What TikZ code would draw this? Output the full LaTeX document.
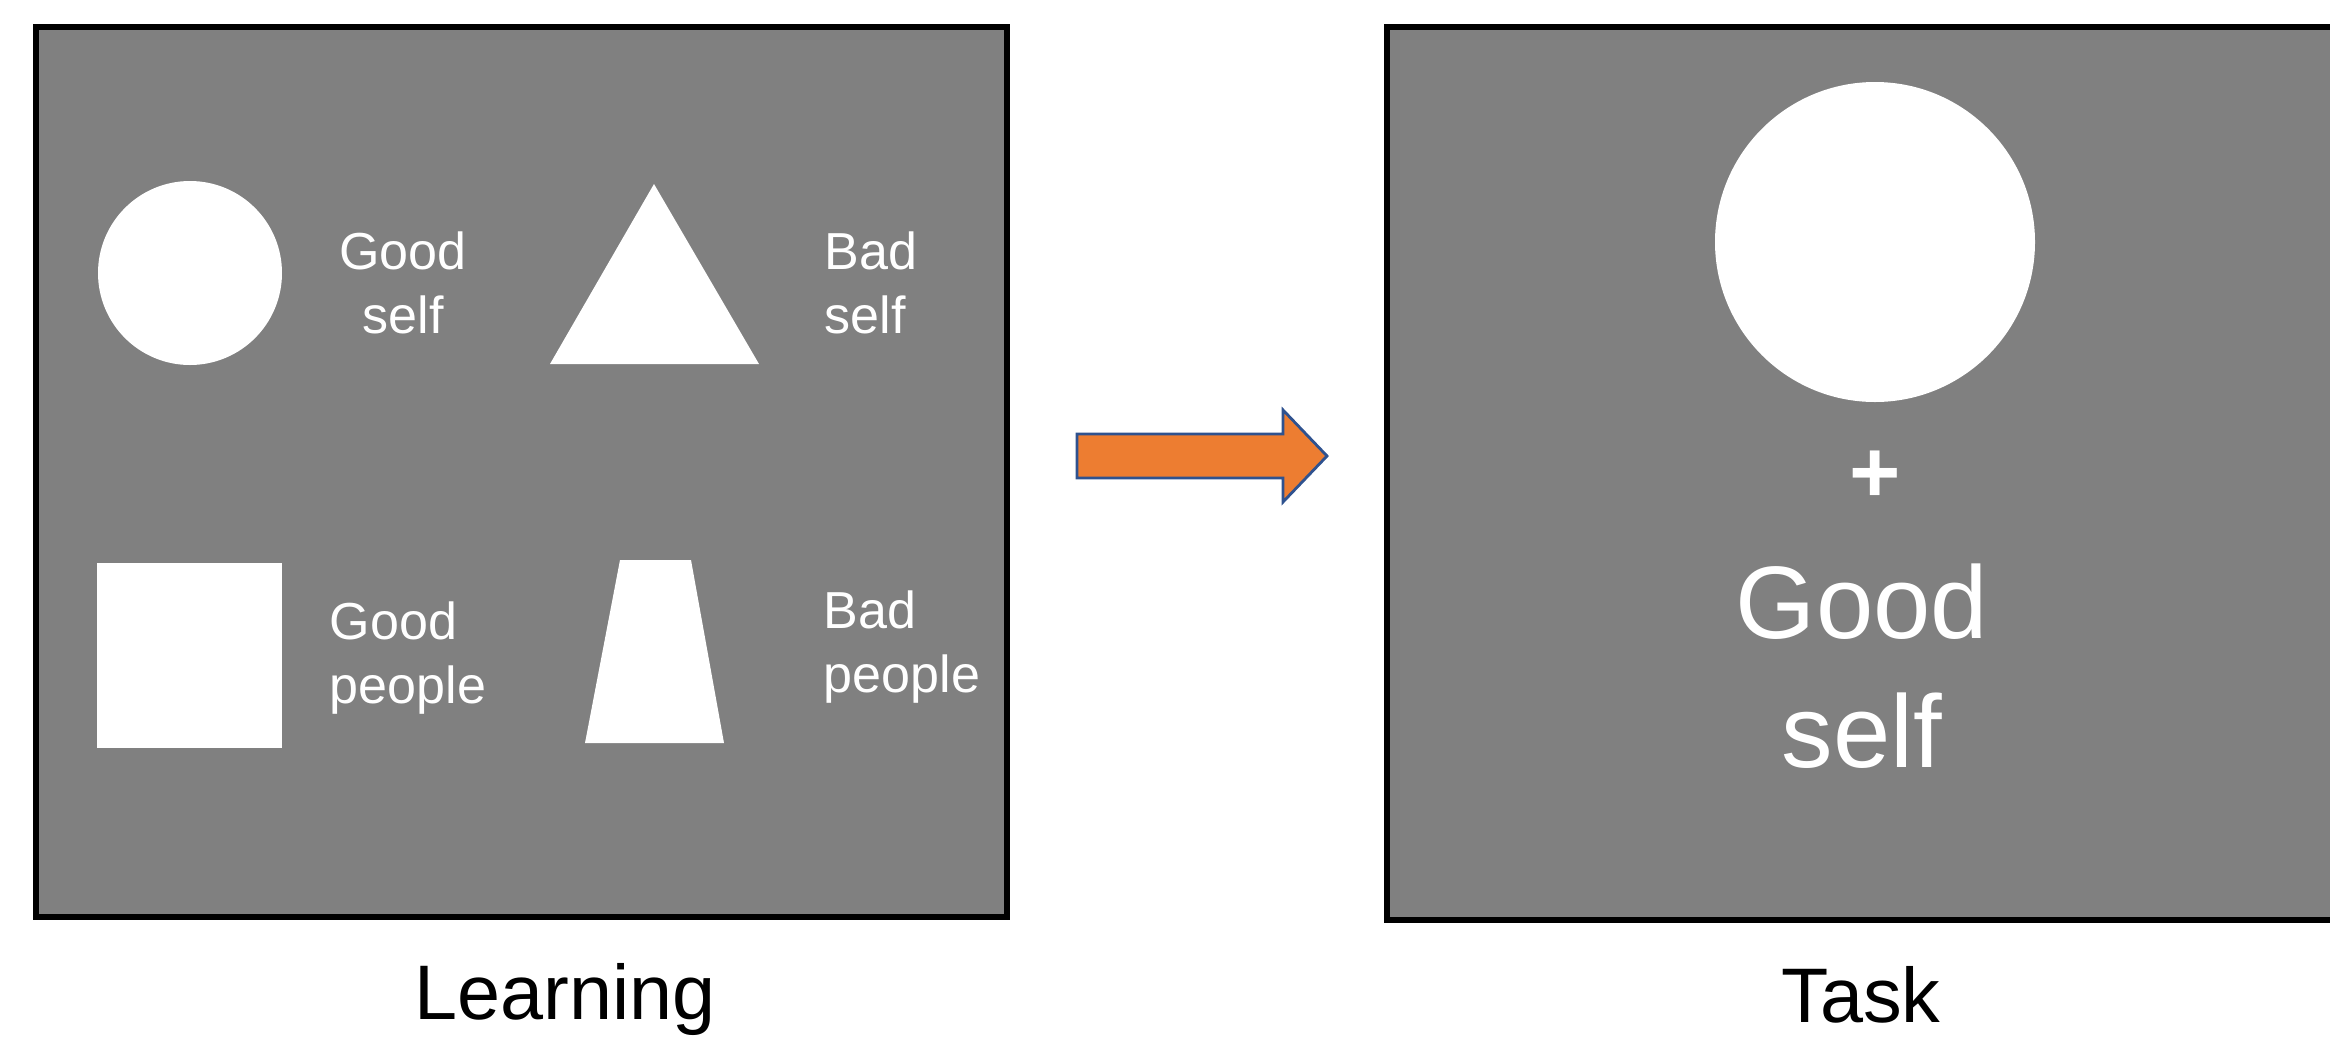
\documentclass[tikz,border=0pt]{standalone}
\usepackage{fontspec}
\setmainfont{Liberation Sans}
\definecolor{panelgray}{HTML}{808080}
\definecolor{arroworange}{HTML}{ED7D31}
\definecolor{arrowblue}{HTML}{2F528F}

\begin{document}
\begin{tikzpicture}[
    x=0.01cm,y=-0.01cm,
    line join=miter,
    panel/.style={fill=panelgray,draw=black,line width=1.8pt},
    stim/.style={fill=white},
    lbl/.style={text=white,inner sep=0pt,font=\fontsize{14.8}{18.2}\selectfont},
    biglbl/.style={text=white,inner sep=0pt,font=\fontsize{29.3}{36.7}\selectfont},
    caption/.style={text=black,inner sep=0pt,font=\fontsize{22}{26}\selectfont},
]
\clip (0,0) rectangle (2330,1036);
% panels
\draw[panel] (36,27) rectangle (1007,917);
\draw[panel] (1387,27) rectangle (2370,920);
% learning stimuli
\fill[stim] (190,273) circle (92);
\fill[stim] (654,184) -- (759,364) -- (550,364) -- cycle;
\fill[stim] (97,563) rectangle (282,748);
\fill[stim] (620,560) -- (691,560) -- (724,743) -- (585,743) -- cycle;
\node[lbl,align=center] (goodself) at (403,283) {Good\\self};
\node[lbl,align=left,anchor=west] (badself) at (824,283) {Bad\\self};
\node[lbl,align=left,anchor=west] (goodpeople) at (329,658) {Good\\people};
\node[lbl,align=left,anchor=west] (badpeople) at (823,647) {Bad\\people};
% arrow
\draw[fill=arroworange,draw=arrowblue,line width=0.8pt]
  (1077,434) -- (1283,434) -- (1283,410) -- (1327,456)
  -- (1283,502) -- (1283,478) -- (1077,478) -- cycle;
% task stimulus
\fill[stim] (1875,242) circle (160);
\node[text=white,inner sep=0pt,font=\fontsize{25}{30}\selectfont\bfseries] (fix) at (1875,477) {+};
\node[biglbl,align=center] (taskword) at (1862,666) {Good\\self};
% captions
\node[caption] (learning) at (565,999) {Learning};
\node[caption] (task) at (1861,995) {Task};
\end{tikzpicture}
\end{document}
